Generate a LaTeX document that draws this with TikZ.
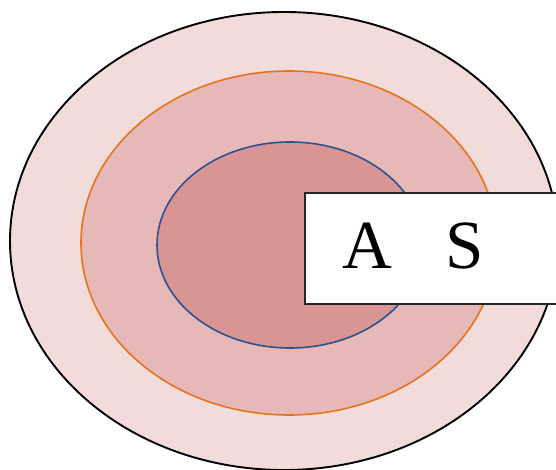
\documentclass[tikz,border=0pt]{standalone}
\usepackage{fontspec}
\setmainfont{Liberation Serif}
\definecolor{ringout}{HTML}{F2DCDB}
\definecolor{ringmid}{HTML}{E6B8B7}
\definecolor{ringin}{HTML}{D99594}
\definecolor{lineorange}{HTML}{E8731C}
\definecolor{lineblue}{HTML}{2D5290}
\tikzset{
  ringline/.style={line width=1.6pt},
  labeltext/.style={font=\fontsize{69}{69}\selectfont, inner sep=0pt, anchor=base}
}
\begin{document}
\begin{tikzpicture}[x=1pt,y=-1pt]
\useasboundingbox (0,0) rectangle (556,470);
\clip (0,0) rectangle (556,470);
\draw[ringline, line width=1.9pt, fill=ringout, draw=black] (284,241) ellipse [x radius=274, y radius=229];
\draw[ringline, fill=ringmid, draw=lineorange] (289,243) ellipse [x radius=208, y radius=172];
\draw[ringline, fill=ringin, draw=lineblue] (290,245) ellipse [x radius=133, y radius=103];
\draw[line width=2pt, draw=black!85, fill=white] (305,193) rectangle (580,304);
\node[labeltext] (a) at (367,268) {A};
\node[labeltext] (s) at (465,268) {S};
\end{tikzpicture}
\end{document}
